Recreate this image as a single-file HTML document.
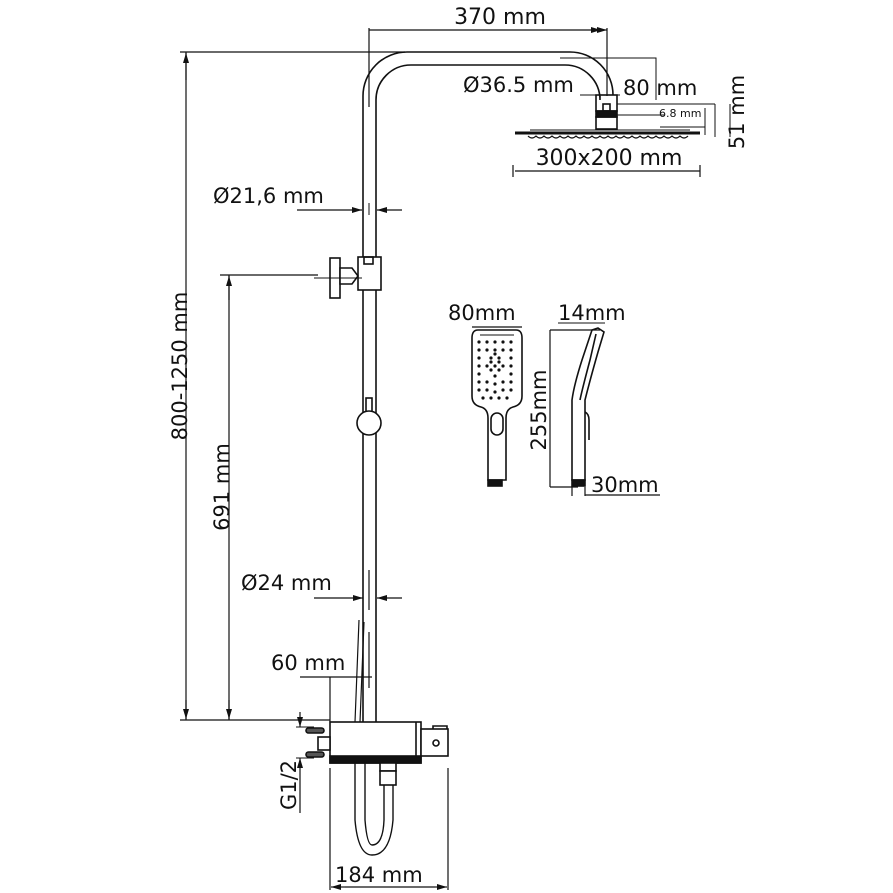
<!DOCTYPE html>
<html><head><meta charset="utf-8"><style>
html,body{margin:0;padding:0;background:#fff;}
svg{display:block}
text{font-family:"DejaVu Sans","Liberation Sans",sans-serif;fill:#111;}
</style></head><body>
<svg width="893" height="893" viewBox="0 0 893 893" xmlns="http://www.w3.org/2000/svg">
<defs>
<marker id="a" viewBox="0 0 10 6" refX="10" refY="3" markerWidth="10" markerHeight="6" orient="auto" markerUnits="userSpaceOnUse"><path d="M0,0 L10,3 L0,6z" fill="#111"/></marker>
</defs>
<g stroke="#111" stroke-width="1.6" fill="none">
<path d="M363,722 V96 A44,44 0 0 1 407,52 H570 A43,43 0 0 1 613,95"/>
<path d="M376,722 V100 A35,35 0 0 1 411,65 H565 A35,35 0 0 1 600,100 V96"/>
<rect x="596" y="95" width="21" height="16"/>
<rect x="603" y="104" width="7" height="7"/>
<rect x="596" y="111" width="21" height="6" fill="#111"/>
<rect x="596" y="117" width="21" height="12"/>
<path d="M515,133 H700" stroke-width="3"/>
<path d="M530,130 H690" stroke-width="1"/>
<path d="M528,136 q4,4 8,0 q4,4 8,0 q4,4 8,0 q4,4 8,0 q4,4 8,0 q4,4 8,0 q4,4 8,0 q4,4 8,0 q4,4 8,0 q4,4 8,0 q4,4 8,0 q4,4 8,0 q4,4 8,0 q4,4 8,0 q4,4 8,0 q4,4 8,0 q4,4 8,0 q4,4 8,0 q4,4 8,0 q4,4 8,0" stroke-width="1.2"/>
<path d="M369,28 V107 M607,28 V96" stroke-width="1.2"/>
<path d="M375,30 H369 M375,30 H601" stroke-width="1.2" marker-end="url(#a)"/>
<path d="M601,30 H607" stroke-width="1.2" marker-end="url(#a)"/>
<path d="M560,58 H656 V100 M580,95 H620 M617,104 H715 M617,115 H665 M660,127 H705 M705,108 V135 M715,104 V137 M730,104 V137" stroke-width="1"/>
<path d="M515,171 H700 M513,165 V177 M700,165 V177" stroke-width="1.2"/>
<path d="M180,52 H405 M186,52 V720 M180,720 H330" stroke-width="1.2"/>
<path d="M186,80 V53" stroke-width="1.2" marker-end="url(#a)"/>
<path d="M186,700 V719" stroke-width="1.2" marker-end="url(#a)"/>
<path d="M220,275 H318 M229,275 V720" stroke-width="1.2"/>
<path d="M229,300 V276" stroke-width="1.2" marker-end="url(#a)"/>
<path d="M229,700 V719" stroke-width="1.2" marker-end="url(#a)"/>
<path d="M297,210 H362" stroke-width="1.2" marker-end="url(#a)"/>
<path d="M402,210 H377" stroke-width="1.2" marker-end="url(#a)"/>
<path d="M369,203 V215" stroke-width="1"/>
<path d="M314,598 H363" stroke-width="1.2" marker-end="url(#a)"/>
<path d="M402,598 H377" stroke-width="1.2" marker-end="url(#a)"/>
<path d="M369,570 V610 M369,632 V688" stroke-width="1.2"/>
<path d="M300,677 H372" stroke-width="1.2"/>
<path d="M330,677 V722" stroke-width="1.2"/>
<path d="M359,620 L355,722 M364,622 L360,722" stroke-width="1.2"/>
<rect x="358" y="257" width="23" height="33" fill="#fff"/>
<rect x="364" y="257" width="9" height="7"/>
<rect x="330" y="258" width="10" height="40" fill="#fff"/>
<path d="M340,268 H352 L358,276 L352,284 H340 Z" fill="#fff"/>
<path d="M314,278 H362" stroke-width="1"/>
<rect x="366" y="398" width="6" height="14" fill="#fff"/>
<circle cx="369" cy="423" r="12" fill="#fff"/>
<rect x="330" y="722" width="91" height="41" fill="#fff"/>
<rect x="330" y="756" width="91" height="7" fill="#111"/>
<path d="M416,722 V757"/>
<rect x="421" y="729" width="27" height="27" fill="#fff"/>
<path d="M433,729 V726 H447 V729" />
<circle cx="436" cy="743" r="3"/>
<rect x="318" y="737" width="12" height="13" fill="#fff"/>
<rect x="306" y="728" width="18" height="5" rx="2.5" fill="#555"/>
<rect x="306" y="752" width="18" height="5" rx="2.5" fill="#555"/>
<path d="M300,712 V727" stroke-width="1.2" marker-end="url(#a)"/>
<path d="M300,813 V758" stroke-width="1.2" marker-end="url(#a)"/>
<path d="M296,727 H314 M296,758 H314" stroke-width="1"/>
<path d="M355,763 V820 Q358,855 372,855 Q390,855 393,820 V782" stroke-width="1.4"/>
<path d="M365,763 V820 Q367,845 372,845 Q383,845 384,820 V782" stroke-width="1.4"/>
<rect x="380" y="763" width="16" height="8" fill="#fff"/>
<rect x="380" y="771" width="16" height="14" fill="#fff"/>
<path d="M330,768 V890 M448,768 V890" stroke-width="1.2"/>
<path d="M345,887 H331" stroke-width="1.2" marker-end="url(#a)"/>
<path d="M435,887 H447" stroke-width="1.2" marker-end="url(#a)"/>
<path d="M345,887 H435" stroke-width="1.2"/>
<path d="M478,330 H516 Q522,330 522,338 V396 Q522,405 513,407 Q506,409 506,418 V480 H488 V418 Q488,409 481,407 Q472,405 472,396 V338 Q472,330 478,330 Z" fill="#fff"/>
<path d="M480,335 H514" stroke-width="1"/>
<rect x="491" y="413" width="12" height="22" rx="6"/>
<rect x="488" y="480" width="14" height="6" fill="#111"/>
<path d="M472,327 H522" stroke-width="1.2"/>
<path d="M598,328 L604,332 L598,352 Q590,380 585,400 L585,480 H572 L572,400 Q574,385 582,360 L592,330 Z" fill="#fff"/>
<path d="M596,334 L590,360 Q582,390 580,400"/>
<path d="M585,412 Q589,414 589,420 V440" />
<rect x="572" y="480" width="13" height="6" fill="#111"/>
<path d="M550,330 H600 M550,330 V487 M550,487 H578 M572,487 V496 M585,487 V496 M585,495 H660" stroke-width="1.2"/>
<path d="M558,323 H605" stroke-width="1"/>
</g>
<g fill="#111">
<circle cx="479" cy="342" r="1.6"/><circle cx="487" cy="342" r="1.6"/><circle cx="495" cy="342" r="1.6"/><circle cx="503" cy="342" r="1.6"/><circle cx="511" cy="342" r="1.6"/>
<circle cx="479" cy="350" r="1.6"/><circle cx="487" cy="350" r="1.6"/><circle cx="495" cy="350" r="1.6"/><circle cx="503" cy="350" r="1.6"/><circle cx="511" cy="350" r="1.6"/>
<circle cx="479" cy="358" r="1.6"/><circle cx="491" cy="358" r="1.6"/><circle cx="499" cy="358" r="1.6"/><circle cx="511" cy="358" r="1.6"/><circle cx="495" cy="354" r="1.6"/>
<circle cx="479" cy="366" r="1.6"/><circle cx="487" cy="366" r="1.6"/><circle cx="495" cy="366" r="1.6"/><circle cx="503" cy="366" r="1.6"/><circle cx="511" cy="366" r="1.6"/><circle cx="491" cy="362" r="1.6"/><circle cx="499" cy="362" r="1.6"/><circle cx="491" cy="370" r="1.6"/><circle cx="499" cy="370" r="1.6"/>
<circle cx="479" cy="374" r="1.6"/><circle cx="495" cy="376" r="1.6"/><circle cx="511" cy="374" r="1.6"/>
<circle cx="479" cy="382" r="1.6"/><circle cx="487" cy="382" r="1.6"/><circle cx="495" cy="384" r="1.6"/><circle cx="503" cy="382" r="1.6"/><circle cx="511" cy="382" r="1.6"/>
<circle cx="479" cy="390" r="1.6"/><circle cx="487" cy="390" r="1.6"/><circle cx="495" cy="392" r="1.6"/><circle cx="503" cy="390" r="1.6"/><circle cx="511" cy="390" r="1.6"/>
<circle cx="483" cy="398" r="1.6"/><circle cx="491" cy="398" r="1.6"/><circle cx="499" cy="398" r="1.6"/><circle cx="507" cy="398" r="1.6"/>
</g>
<g font-size="21">
<text x="500" y="24" text-anchor="middle" font-size="22">370 mm</text>
<text x="463" y="92">Ø36.5 mm</text>
<text x="623" y="95">80 mm</text>
<text x="609" y="165" text-anchor="middle" font-size="22">300x200 mm</text>
<text x="213" y="203">Ø21,6 mm</text>
<text x="241" y="590">Ø24 mm</text>
<text x="271" y="670">60 mm</text>
<text x="335" y="882">184 mm</text>
<text x="448" y="320">80mm</text>
<text x="558" y="320">14mm</text>
<text x="591" y="492">30mm</text>
<text transform="translate(187,366) rotate(-90)" text-anchor="middle">800-1250 mm</text>
<text transform="translate(229,487) rotate(-90)" text-anchor="middle">691 mm</text>
<text transform="translate(546,410) rotate(-90)" text-anchor="middle">255mm</text>
<text transform="translate(744,112) rotate(-90)" text-anchor="middle">51 mm</text>
<text transform="translate(296,785) rotate(-90)" text-anchor="middle">G1/2</text>
</g>
<text x="659" y="117" font-size="11">6.8 mm</text>
</svg>
</body></html>
